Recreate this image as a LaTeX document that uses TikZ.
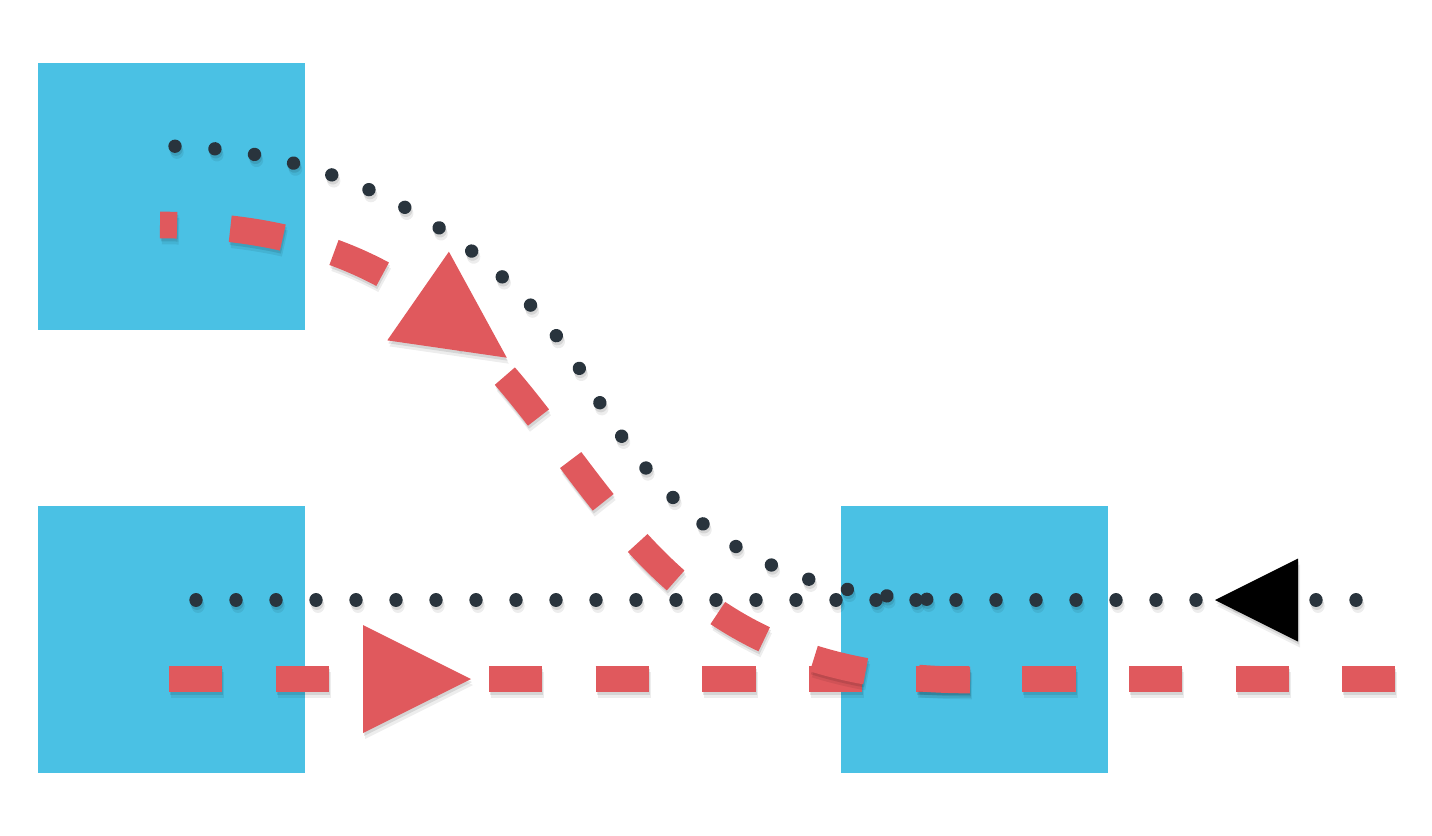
\documentclass[tikz,border=0pt]{standalone}
\usetikzlibrary{decorations.markings}
\definecolor{boxblue}{HTML}{4AC1E4}
\definecolor{dashred}{HTML}{E0595D}
\definecolor{dotdark}{HTML}{29343D}
\begin{document}
\begin{tikzpicture}[x=0.5pt,y=-0.5pt,
  box/.style={fill=boxblue, minimum size=133.5pt, inner sep=0pt, outer sep=0pt, draw=none},
  reddash/.style={draw=dashred, line width=13.33pt, dash pattern=on 26.67pt off 26.67pt},
  darkdots/.style={draw=dotdark, line width=6.67pt, line cap=round, dash pattern=on 0.01pt off 19.99pt},
  redmark/.style 2 args={postaction={decorate, decoration={markings, mark=at position #1 with {\fill[#2] (0pt,-27pt) -- (0pt,27pt) -- (54pt,0pt) -- cycle;}}}},
  blackmark/.style 2 args={postaction={decorate, decoration={markings, mark=at position #1 with {\fill[#2] (0pt,0pt) -- (41.5pt,-20.75pt) -- (41.5pt,20.75pt) -- cycle;}}}},
  shade/.style={draw=black, draw opacity=#1},
]
\useasboundingbox (0,0) rectangle (1432,836);
% boxes
\node[box] (A) at (171.5,196.5) {};
\node[box] (B) at (171.5,639.5) {};
\node[box] (C) at (974.5,639.5) {};
% path points
\coordinate (hr0) at (169,679);
\coordinate (hr1) at (1395,679);
\coordinate (hd0) at (196,600);
\coordinate (hd1) at (1357,600);
\coordinate (rc0) at (160,225);
\coordinate (rc1) at (628,225);
\coordinate (rc2) at (502,680);
\coordinate (rce) at (970,680);
\coordinate (dc0) at (160,146);
\coordinate (dc1) at (360,146);
\coordinate (dc2) at (515.6,255.8);
\coordinate (dcm) at (590,386);
\coordinate (dc3) at (664.4,516.2);
\coordinate (dc4) at (762,600);
\coordinate (dce) at (958,600);
\def\pathHR{(hr0) -- (hr1)}
\def\pathHD{(hd0) -- (hd1)}
\def\pathRC{(rc0) .. controls (rc1) and (rc2) .. (rce)}
\def\pathDC{(dc0) .. controls (dc1) and (dc2) .. (dcm) .. controls (dc3) and (dc4) .. (dce)}
% horizontal red dashed line
\begin{scope}[transform canvas={xshift=1pt,yshift=-3pt}]
  \draw[reddash, shade=0.07, redmark={97pt}{black,fill opacity=0.07}] \pathHR;
\end{scope}
\begin{scope}[transform canvas={xshift=0.5pt,yshift=-1.5pt}]
  \draw[reddash, shade=0.1, redmark={97pt}{black,fill opacity=0.1}] \pathHR;
\end{scope}
\draw[reddash, redmark={97pt}{dashred}] \pathHR;
% horizontal dotted line
\begin{scope}[transform canvas={xshift=1pt,yshift=-3pt}]
  \draw[darkdots, shade=0.07, blackmark={509.5pt}{black,fill opacity=0.07}] \pathHD;
\end{scope}
\begin{scope}[transform canvas={xshift=0.5pt,yshift=-1.5pt}]
  \draw[darkdots, shade=0.1, blackmark={509.5pt}{black,fill opacity=0.1}] \pathHD;
\end{scope}
\draw[darkdots, blackmark={509.5pt}{black}] \pathHD;
% red dashed curve
\begin{scope}[transform canvas={xshift=1pt,yshift=-3pt}]
  \draw[reddash, dash phase=18.15pt, shade=0.07, redmark={136pt}{black,fill opacity=0.07}] \pathRC;
\end{scope}
\begin{scope}[transform canvas={xshift=0.5pt,yshift=-1.5pt}]
  \draw[reddash, dash phase=18.15pt, shade=0.1, redmark={136pt}{black,fill opacity=0.1}] \pathRC;
\end{scope}
\draw[reddash, dash phase=18.15pt, redmark={136pt}{dashred}] \pathRC;
% dotted curve
\begin{scope}[transform canvas={xshift=1pt,yshift=-3pt}]
  \draw[darkdots, dash phase=12.5pt, shade=0.07] \pathDC;
\end{scope}
\begin{scope}[transform canvas={xshift=0.5pt,yshift=-1.5pt}]
  \draw[darkdots, dash phase=12.5pt, shade=0.1] \pathDC;
\end{scope}
\draw[darkdots, dash phase=12.5pt] \pathDC;
\end{tikzpicture}
\end{document}
